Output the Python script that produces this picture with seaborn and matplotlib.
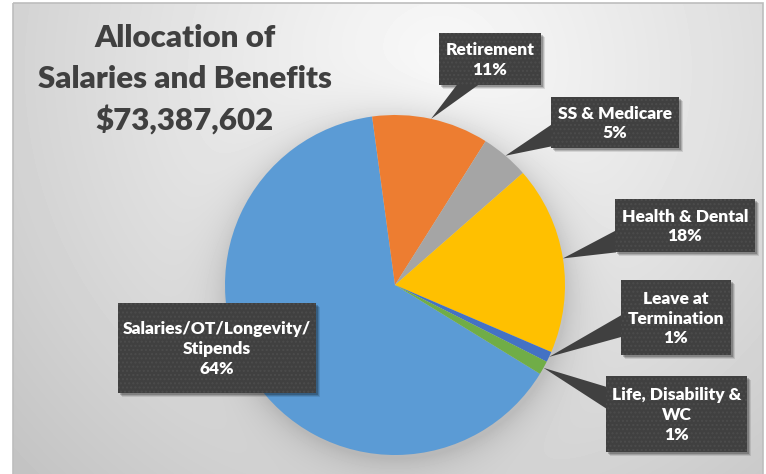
import numpy as np
import matplotlib
matplotlib.use("Agg")
import matplotlib.pyplot as plt
from matplotlib.patches import Rectangle, Polygon
import seaborn as sns

# Budget shares (percent of total salaries and benefits)
categories = ["Salaries/OT/Longevity/\nStipends", "Retirement", "SS & Medicare",
              "Health & Dental", "Leave at\nTermination", "Life, Disability &\nWC"]
shares = [64.1, 11.1, 4.6, 17.9, 1.0, 1.3]
title_lines = ["Allocation of", "Salaries and Benefits", "$73,387,602"]
slice_colors = ["#5B9BD5", "#ED7D31", "#A5A5A5", "#FFC000", "#4472C4", "#70AD47"]

sns.set_theme(style="white")
plt.rcParams["font.family"] = ["Lato", "DejaVu Sans"]
plt.rcParams["hatch.linewidth"] = 1.0
palette = sns.color_palette(slice_colors)

W, H = 766, 474
fig = plt.figure(figsize=(W / 100, H / 100), dpi=100)
fig.patch.set_facecolor("white")

# background panel in pixel coordinates
bg = fig.add_axes([0, 0, 1, 1])
bg.set_xlim(0, W)
bg.set_ylim(H, 0)
bg.axis("off")

px0, px1, py0, py1 = 13, 763, 3, 474
cx, cy, R = 395, 285, 170
yy, xx = np.mgrid[py0:py1, px0:px1] + 0.5
dist = np.hypot(xx - 440, yy - 70)
shade = 0.975 - 0.21 * (dist / 580) ** 1.15
dpie = np.hypot(xx - cx - 2, yy - cy - 4)
shade -= 0.12 * np.exp(-np.clip(dpie - R, 0, None) / 18)
bg.imshow(shade, cmap="gray", vmin=0, vmax=1, extent=[px0, px1, py1, py0],
          origin="upper", interpolation="bilinear", aspect="auto", zorder=0)
bg.add_patch(Rectangle((px0, py0), px1 - px0, py1 - py0 + 5, fill=False,
                       edgecolor="#bdbdbd", linewidth=1.2, zorder=1))

for text, y in zip(title_lines, [38, 79, 120]):
    bg.text(185, y, text, ha="center", va="center", fontsize=22.5,
            fontweight="heavy", color="#404040", zorder=2)

# pie
ax = fig.add_axes([(cx - R) / W, (H - cy - R) / H, 2 * R / W, 2 * R / H])
wedges, _ = ax.pie(shares, colors=palette, startangle=-31.5, counterclock=False,
                   radius=1, wedgeprops=dict(linewidth=0))
ax.set_xlim(-1, 1)
ax.set_ylim(-1, 1)
ax.axis("off")

# callout layer
top = fig.add_axes([0, 0, 1, 1])
top.set_xlim(0, W)
top.set_ylim(H, 0)
top.axis("off")
top.patch.set_alpha(0)

# box extents (x0, y0, x1, y1), pointer side, position along that side
callouts = {
    0: ((118, 303, 316, 393), None, 0.0),
    1: ((439, 33, 541, 85), "bottom", 0.29),
    2: ((551, 97, 679, 148), "left", 0.75),
    3: ((615, 199, 755, 252), "left", 0.80),
    4: ((621, 280, 731, 355), "left", 0.61),
    5: ((606, 376, 747, 452), "left", 0.29),
}

fig.canvas.draw()
to_top = top.transData.inverted()
box_face = "#404040"
for i, w in enumerate(wedges):
    (bx0, by0, bx1, by1), side, frac = callouts[i]
    mid = np.deg2rad((w.theta1 + w.theta2) / 2)
    tip = to_top.transform(ax.transData.transform((np.cos(mid), np.sin(mid))))
    # drop shadow
    for off, a in [(4, 0.10), (3, 0.15), (2, 0.2)]:
        top.add_patch(Rectangle((bx0 + off, by0 + off), bx1 - bx0, by1 - by0,
                                facecolor="black", alpha=a, linewidth=0, zorder=3))
    if side is not None:
        half = 11
        if side == "bottom":
            bxm = bx0 + frac * (bx1 - bx0)
            base = [(bxm - half, by1 - 1), (bxm + half, by1 - 1)]
        else:
            bym = by0 + frac * (by1 - by0)
            base = [(bx0 + 1, bym - half), (bx0 + 1, bym + half)]
        top.add_patch(Polygon([base[0], tuple(tip), base[1]], closed=True,
                              facecolor=box_face, edgecolor="none", zorder=4))
    top.add_patch(Rectangle((bx0, by0), bx1 - bx0, by1 - by0, facecolor=box_face,
                            edgecolor="#4c4c4c", linewidth=0, hatch="....", zorder=5))
    label = f"{categories[i]}\n{shares[i]:.0f}%"
    top.text((bx0 + bx1) / 2, (by0 + by1) / 2 + 1, label, ha="center", va="center",
             fontsize=12.5, fontweight="heavy", color="white", linespacing=1.3, zorder=6)

fig.savefig("out.png", dpi=100, facecolor="white")
